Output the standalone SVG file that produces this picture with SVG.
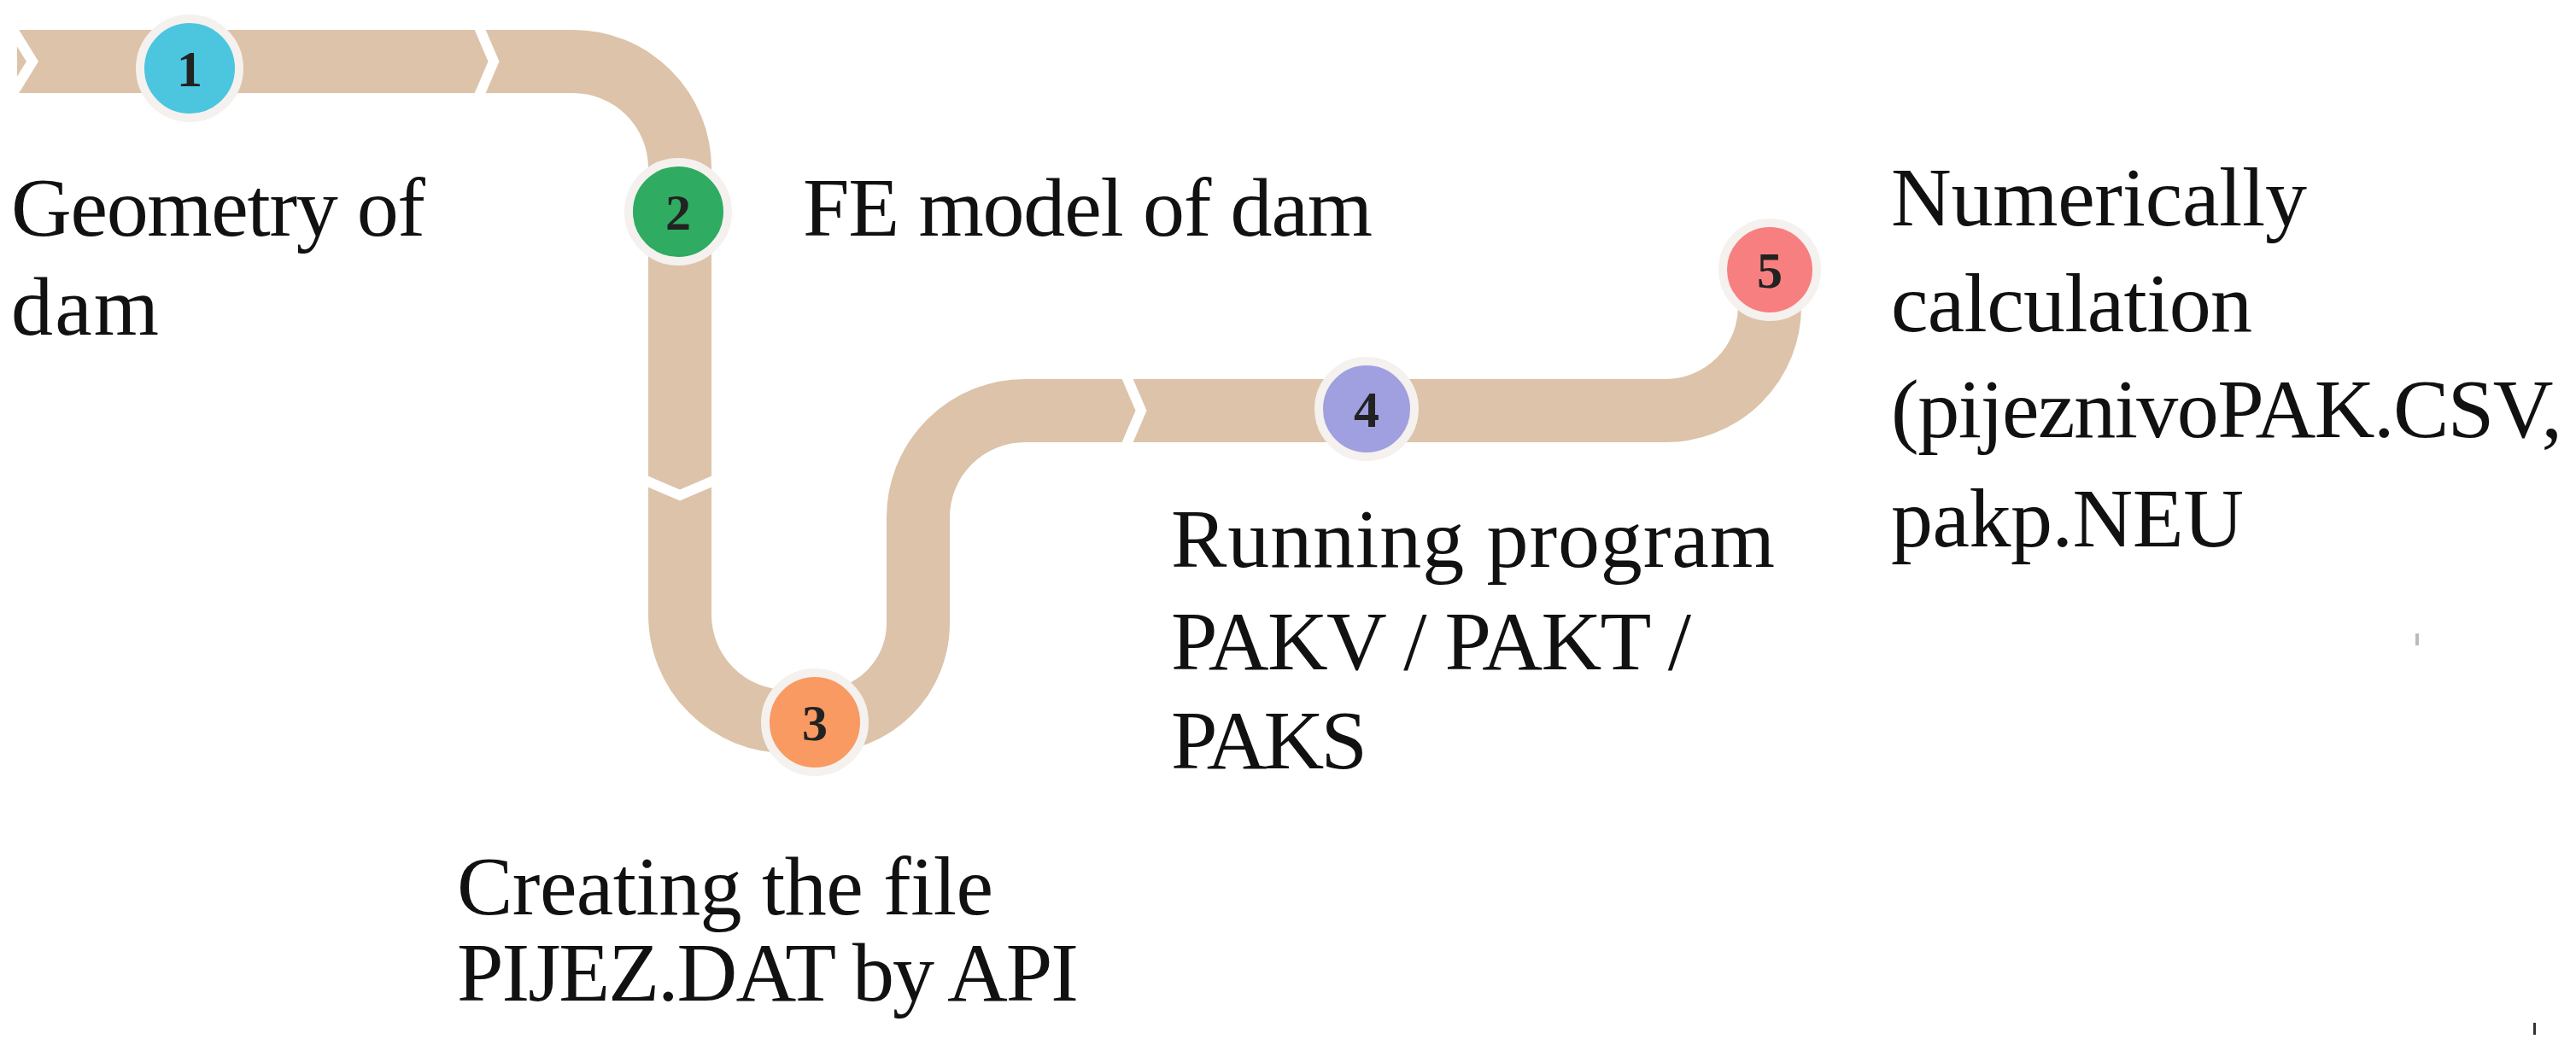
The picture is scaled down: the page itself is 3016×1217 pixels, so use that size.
<svg xmlns="http://www.w3.org/2000/svg" width="3016" height="1217" viewBox="0 0 3016 1217">
<style>
.t{font-family:"Liberation Serif","DejaVu Serif",serif;font-size:98px;fill:#111}
.n{font-family:"Liberation Serif",serif;font-size:60px;font-weight:bold;fill:#222;text-anchor:middle}
.ring{stroke:#f4f1ee;stroke-width:10}
.cut{fill:none;stroke:#fff;stroke-width:12}
</style>
<g id="connectors">
<path d="M20,72 H671 A125,125 0 0 1 796,197 V720 A125,125 0 0 0 921,845 H960 A115,115 0 0 0 1075,730 V606 A125,125 0 0 1 1200,481 H1950 A122,122 0 0 0 2072,359 V314" fill="none" stroke="#dcc3a9" stroke-width="74"/>
<polyline class="cut" points="12,30 38,72 12,114"/>
<polyline class="cut" points="560,30 578,72 560,114"/>
<polyline class="cut" points="754,562 796,580 838,562"/>
<polyline class="cut" points="1318,439 1336,481 1318,523"/>
</g>
<g id="node1"><circle class="ring" cx="222" cy="80" r="58" fill="#4cc5df"/><text class="n" x="222" y="101">1</text>
<text class="t" x="13" y="276" textLength="485">Geometry of</text><text class="t" x="13" y="392" textLength="173">dam</text></g>
<g id="node2"><circle class="ring" cx="794" cy="248" r="58" fill="#2fab62"/><text class="n" x="794" y="269">2</text>
<text class="t" x="940" y="276" textLength="667">FE model of dam</text></g>
<g id="node3"><circle class="ring" cx="954" cy="846" r="58" fill="#f89a62"/><text class="n" x="954" y="867">3</text>
<text class="t" x="535" y="1071" textLength="628">Creating the file</text><text class="t" x="535" y="1172" textLength="728">PIJEZ.DAT by API</text></g>
<g id="node4"><circle class="ring" cx="1600" cy="479" r="56" fill="#a09fdf"/><text class="n" x="1600" y="500">4</text>
<text class="t" x="1371" y="664" textLength="707">Running program</text><text class="t" x="1371" y="784" textLength="609">PAKV / PAKT /</text><text class="t" x="1371" y="900" textLength="230">PAKS</text></g>
<g id="node5"><circle class="ring" cx="2072" cy="316" r="55" fill="#f77f80"/><text class="n" x="2072" y="337">5</text>
<text class="t" x="2214" y="264" textLength="487">Numerically</text><text class="t" x="2214" y="388" textLength="423">calculation</text><text class="t" x="2214" y="512" textLength="786">(pijeznivoPAK.CSV,</text><text class="t" x="2214" y="640" textLength="413">pakp.NEU</text></g>
<rect x="2828" y="742" width="4" height="14" fill="#bbb"/>
<rect x="2966" y="1198" width="3" height="14" fill="#333"/>
</svg>
